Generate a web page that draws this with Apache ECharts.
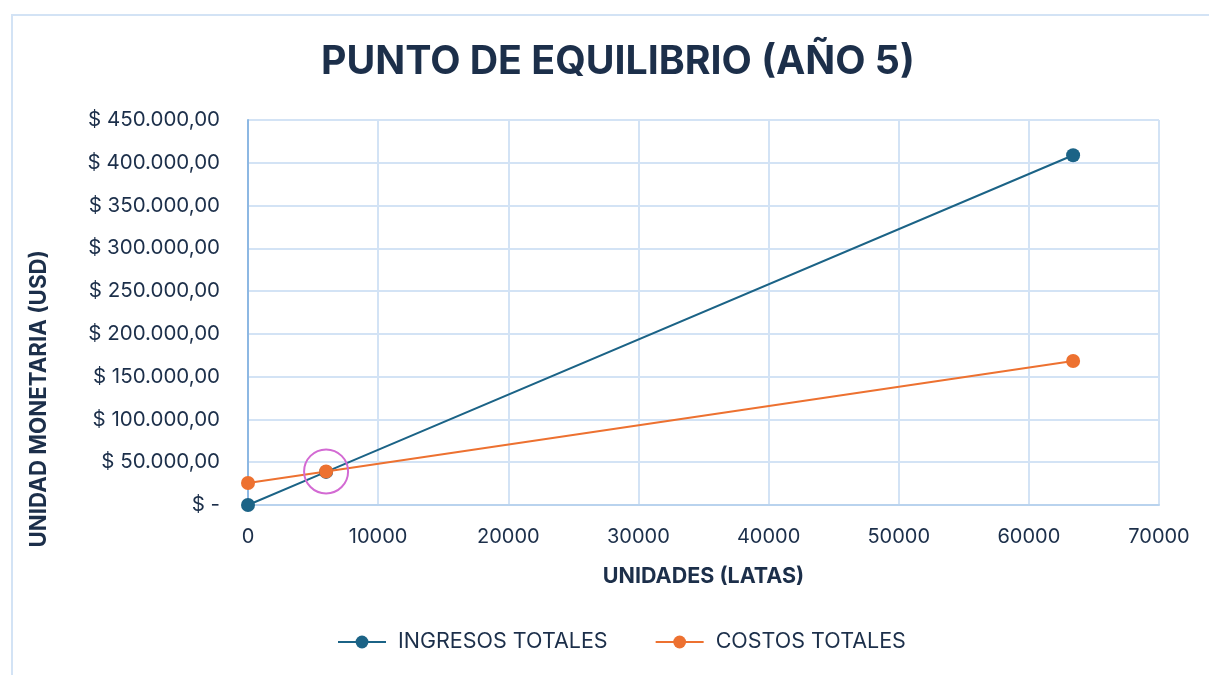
<!DOCTYPE html>
<html>
<head>
<meta charset="utf-8">
<script src="https://cdn.jsdelivr.net/npm/echarts@6/dist/echarts.min.js"></script>
<style>
  html, body { margin: 0; padding: 0; background: #ffffff; overflow: hidden; }
  #frame { position: absolute; left: 11px; top: 14px; width: 1300px; height: 800px;
           border: 2px solid #d3e3f5; box-sizing: border-box; }
  #chart { position: absolute; left: 0; top: 0; width: 1209px; height: 675px; }
</style>
</head>
<body>
<div id="frame"></div>
<div id="chart"></div>
<script>
// Unidades vendidas (latas) y montos en USD
const unidades = [0, 6000, 63400];
const ingresosTotales = [0, 38700, 408800];
const costosTotales = [25700, 39200, 168300];
const puntoEquilibrio = [6000, 39200];
const yTicks = [0, 50000, 100000, 150000, 200000, 250000, 300000, 350000, 400000, 450000];

const navy = '#1c2f4a';
const azul = '#1b6386';
const naranja = '#ed7130';

function formatoUSD(v) {
  if (v === 0) return '$ -';
  const entero = Math.round(v).toString().replace(/\B(?=(\d{3})+(?!\d))/g, '.');
  return '$ ' + entero + ',00';
}

const chart = echarts.init(document.getElementById('chart'));
chart.setOption({
  animation: false,
  textStyle: { fontFamily: 'Inter, "Open Sans", sans-serif' },
  title: {
    text: 'PUNTO DE EQUILIBRIO (AÑO 5)',
    left: 316, top: 38,
    textStyle: { fontSize: 39.3, fontWeight: 'bold', color: navy, fontFamily: 'Inter, sans-serif' }
  },
  grid: { left: 248, right: 50, top: 120, bottom: 170, containLabel: false },
  legend: {
    bottom: 17, left: 332, itemGap: 47, itemWidth: 48, itemHeight: 16,
    textStyle: { fontSize: 21.5, color: navy, padding: [0, 0, 0, 7] },
    data: ['INGRESOS TOTALES', 'COSTOS TOTALES']
  },
  xAxis: {
    type: 'value', min: 0, max: 70000, interval: 10000,
    name: 'UNIDADES (LATAS)', nameLocation: 'middle', nameGap: 61,
    nameTextStyle: { fontSize: 21.5, fontWeight: 'bold', color: navy },
    axisLine: { show: true, lineStyle: { color: '#b9d3ee', width: 2 } },
    axisTick: { show: false },
    axisLabel: { fontSize: 20, color: navy, margin: 22, formatter: v => String(v) },
    splitLine: { show: true, lineStyle: { color: '#d3e3f5', width: 2 } }
  },
  yAxis: {
    type: 'value', min: yTicks[0], max: yTicks[yTicks.length - 1], interval: 50000,
    axisLine: { show: true, lineStyle: { color: '#8db8e3', width: 2 } },
    axisTick: { show: false },
    axisLabel: { fontSize: 20.5, color: navy, margin: 28, formatter: formatoUSD },
    splitLine: { show: true, lineStyle: { color: '#d3e3f5', width: 2 } }
  },
  graphic: [{
    type: 'text', left: 28, top: 250, rotation: Math.PI / 2,
    style: { text: 'UNIDAD MONETARIA (USD)', fontSize: 22.3, fontWeight: 'bold', fill: navy,
             fontFamily: 'Inter, sans-serif' }
  }],
  series: [
    {
      name: 'INGRESOS TOTALES', type: 'line',
      data: unidades.map((u, i) => [u, ingresosTotales[i]]),
      symbol: 'circle', symbolSize: 14,
      lineStyle: { color: azul, width: 2 },
      itemStyle: { color: azul }
    },
    {
      name: 'COSTOS TOTALES', type: 'line',
      data: unidades.map((u, i) => [u, costosTotales[i]]),
      symbol: 'circle', symbolSize: 14,
      lineStyle: { color: naranja, width: 2 },
      itemStyle: { color: naranja },
      markPoint: {
        symbol: 'circle', symbolSize: 44, silent: true,
        label: { show: false },
        itemStyle: { color: 'rgba(0,0,0,0)', borderColor: '#d36ad3', borderWidth: 2 },
        data: [{ coord: puntoEquilibrio }]
      }
    }
  ]
});
</script>
</body>
</html>
